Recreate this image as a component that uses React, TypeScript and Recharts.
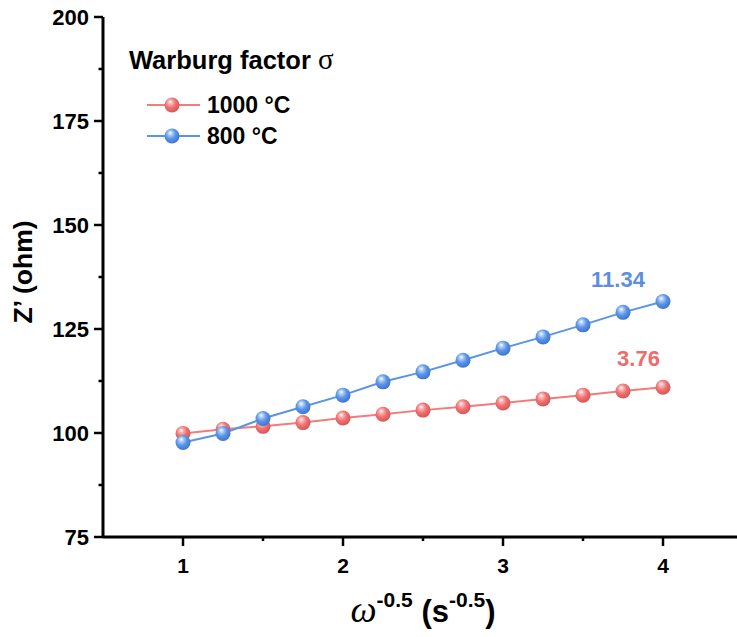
import React from 'react';
import { LineChart, Line, XAxis, YAxis, Legend, Label } from 'recharts';

// ---- data ----
const omegaInv = [1, 1.25, 1.5, 1.75, 2, 2.25, 2.5, 2.75, 3, 3.25, 3.5, 3.75, 4];
const z1000 = [99.9, 100.9, 101.6, 102.5, 103.6, 104.5, 105.5, 106.3, 107.2, 108.2, 109.1, 110.1, 111.0];
const z800 = [97.7, 99.9, 103.5, 106.3, 109.1, 112.3, 114.7, 117.5, 120.4, 123.1, 126.0, 129.0, 131.6];
const seriesNames = ['1000 °C', '800 °C'];
const sigmaLabels = ['3.76', '11.34'];
const xTicks = [1, 1.5, 2, 2.5, 3, 3.5, 4, 4.5];
const xMajor = [1, 2, 3, 4];
const yTicks = [75, 87.5, 100, 112.5, 125, 137.5, 150, 162.5, 175, 187.5, 200];
const yMajor = [75, 100, 125, 150, 175, 200];
const legendTitle = 'Warburg factor ';
const legendSymbol = 'σ';
const yTitle = 'Z’ (ohm)';

const data = omegaInv.map((x, i) => ({ x, a: z1000[i], b: z800[i] }));

const FONT = '"Liberation Sans", Arial, sans-serif';
const SERIF = '"Liberation Serif", "DejaVu Serif", serif';
const RED = '#F27C7C';
const BLUE = '#5A94E6';
const Y_MARGIN = 14;
const X_MARGIN = 28;

const YTick = (props: any) => {
  const { x, y, payload } = props;
  const ax = x + Y_MARGIN;
  const major = yMajor.includes(payload.value);
  return (
    <g>
      <line x1={ax - (major ? 9 : 4.5)} x2={ax} y1={y} y2={y} stroke="#000" strokeWidth={2.5} />
      {major && (
        <text x={x} y={y} dy="0.36em" textAnchor="end" fontFamily={FONT} fontWeight="bold" fontSize={22} fill="#000">
          {payload.value}
        </text>
      )}
    </g>
  );
};

const XTick = (props: any) => {
  const { x, y, payload } = props;
  const ay = y - X_MARGIN;
  const major = xMajor.includes(payload.value);
  return (
    <g>
      <line x1={x} x2={x} y1={ay} y2={ay + (major ? 9 : 4)} stroke="#000" strokeWidth={2.5} />
      {major && (
        <text x={x} y={y} dy="0.36em" textAnchor="middle" fontFamily={FONT} fontWeight="bold" fontSize={21} fill="#000">
          {payload.value}
        </text>
      )}
    </g>
  );
};

const makeDot = (grad: string) => (p: any) => (
  <circle key={`d-${grad}-${p.index}`} cx={p.cx} cy={p.cy} r={7.5} fill={`url(#${grad})`} />
);

const makeLabel = (text: string, color: string, dx: number, dy: number) => (p: any) =>
  p.index === omegaInv.length - 1 ? (
    <text key={`l-${text}`} x={p.x + dx} y={p.y + dy} textAnchor="middle" fontFamily={FONT} fontWeight="bold" fontSize={22} fill={color}>
      {text}
    </text>
  ) : (
    <g key={`l-${text}-${p.index}`} />
  );

const XTitle = (props: any) => {
  const vb = props.viewBox;
  const cx = vb.x + vb.width / 2;
  const y = vb.y + 85;
  return (
    <text x={cx} y={y} textAnchor="middle" fontFamily={FONT} fontWeight="bold" fill="#000">
      <tspan fontFamily={SERIF} fontStyle="italic" fontWeight="normal" fontSize={37}>ω</tspan>
      <tspan fontSize={21} dy={-15}>-0.5</tspan>
      <tspan fontSize={31} dy={15}> (s</tspan>
      <tspan fontSize={21} dy={-15}>-0.5</tspan>
      <tspan fontSize={31} dy={15}>)</tspan>
    </text>
  );
};

const YTitle = (props: any) => {
  const vb = props.viewBox;
  const x = 32;
  const y = vb.y + vb.height / 2 - 5;
  return (
    <text x={x} y={y} transform={`rotate(-90 ${x} ${y})`} textAnchor="middle" fontFamily={FONT} fontWeight="bold" fontSize={26.5} fill="#000">
      {yTitle}
    </text>
  );
};

const LegendBox = () => (
  <svg width={300} height={130} style={{ display: 'block' }}>
    <text x={29} y={39} fontFamily={FONT} fontWeight="bold" fontSize={25.5} fill="#000">
      {legendTitle}
      <tspan fontFamily={SERIF} fontWeight="normal" fontSize={29}>{legendSymbol}</tspan>
    </text>
    {[RED, BLUE].map((c, i) => {
      const cy = 75 + i * 31;
      return (
        <g key={i}>
          <line x1={47} x2={100} y1={cy} y2={cy} stroke={c} strokeWidth={2} />
          <circle cx={72} cy={cy} r={7.5} fill={`url(#${i === 0 ? 'gRed' : 'gBlue'})`} />
          <text x={107} y={cy + 8} fontFamily={FONT} fontWeight="bold" fontSize={23} fill="#000">
            {seriesNames[i]}
          </text>
        </g>
      );
    })}
  </svg>
);

export default function App() {
  return (
    <div style={{ position: 'absolute', left: 0, top: 0, width: 737, height: 637, overflow: 'hidden', background: '#fff' }}>
      <svg width={0} height={0} style={{ position: 'absolute' }}>
        <defs>
          <radialGradient id="gRed" cx="0.42" cy="0.4" r="0.62" fx="0.38" fy="0.28">
            <stop offset="0%" stopColor="#ffffff" />
            <stop offset="22%" stopColor="#f9b4b4" />
            <stop offset="55%" stopColor="#f07272" />
            <stop offset="100%" stopColor="#d65353" />
          </radialGradient>
          <radialGradient id="gBlue" cx="0.42" cy="0.4" r="0.62" fx="0.38" fy="0.28">
            <stop offset="0%" stopColor="#ffffff" />
            <stop offset="22%" stopColor="#aecdf5" />
            <stop offset="55%" stopColor="#5b95e8" />
            <stop offset="100%" stopColor="#3e74cc" />
          </radialGradient>
        </defs>
      </svg>
      <LineChart width={745} height={637} data={data} margin={{ top: 17, right: 2, bottom: 0, left: 0 }}>
        <XAxis
          dataKey="x"
          type="number"
          domain={[0.5, 4.5]}
          ticks={xTicks}
          interval={0}
          allowDataOverflow
          height={100}
          tickSize={0}
          tickMargin={X_MARGIN}
          tickLine={false}
          tick={<XTick />}
          axisLine={{ stroke: '#000', strokeWidth: 3 }}
        >
          <Label content={<XTitle />} />
        </XAxis>
        <XAxis
          xAxisId="top"
          orientation="top"
          type="number"
          domain={[0.5, 4.5]}
          height={0}
          tick={false}
          tickLine={false}
          axisLine={{ stroke: '#000', strokeWidth: 3 }}
        />
        <YAxis
          type="number"
          domain={[75, 200]}
          ticks={yTicks}
          interval={0}
          allowDataOverflow
          width={103}
          tickSize={0}
          tickMargin={Y_MARGIN}
          tickLine={false}
          tick={<YTick />}
          axisLine={{ stroke: '#000', strokeWidth: 3 }}
        >
          <Label content={<YTitle />} />
        </YAxis>
        <Legend
          layout="vertical"
          verticalAlign="middle"
          align="center"
          wrapperStyle={{ left: 100, top: 30, width: 300, height: 130 }}
          content={() => <LegendBox />}
        />
        <Line
          dataKey="a"
          name={seriesNames[0]}
          stroke={RED}
          strokeWidth={2}
          dot={makeDot('gRed')}
          isAnimationActive={false}
          label={makeLabel(sigmaLabels[0], '#EE6B6B', -24.5, -21)}
        />
        <Line
          dataKey="b"
          name={seriesNames[1]}
          stroke={BLUE}
          strokeWidth={2}
          dot={makeDot('gBlue')}
          isAnimationActive={false}
          label={makeLabel(sigmaLabels[1], '#5A8FDD', -45, -15)}
        />
      </LineChart>
    </div>
  );
}
